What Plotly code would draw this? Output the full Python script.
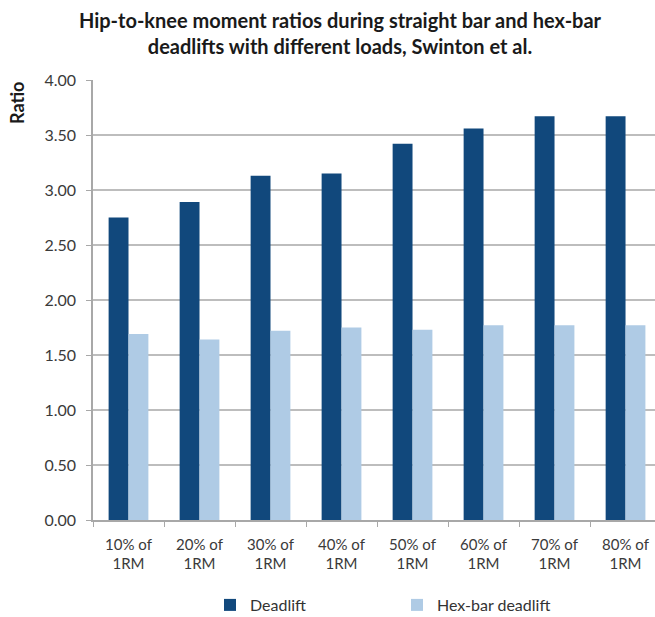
import plotly.graph_objects as go

# Load levels (x categories)
loads = ["10% of<br>1RM", "20% of<br>1RM", "30% of<br>1RM", "40% of<br>1RM",
         "50% of<br>1RM", "60% of<br>1RM", "70% of<br>1RM", "80% of<br>1RM"]

# Hip-to-knee moment ratios
deadlift = [2.75, 2.89, 3.13, 3.15, 3.42, 3.56, 3.67, 3.67]
hex_bar = [1.69, 1.64, 1.72, 1.75, 1.73, 1.77, 1.77, 1.77]

y_ticks = [0, 0.5, 1.0, 1.5, 2.0, 2.5, 3.0, 3.5, 4.0]

FONT = "Lato, 'Open Sans', sans-serif"
W, H = 655, 617
L, R, T, B = 93, 0, 80, 97

fig = go.Figure()
fig.add_trace(go.Bar(x=loads, y=deadlift, name="Deadlift",
                     marker=dict(color="#11487c", line=dict(width=0))))
fig.add_trace(go.Bar(x=loads, y=hex_bar, name="Hex-bar deadlift",
                     marker=dict(color="#afcbe5", line=dict(width=0))))

fig.update_layout(
    width=W, height=H,
    margin=dict(l=L, r=R, t=T, b=B, autoexpand=False),
    paper_bgcolor="white", plot_bgcolor="white",
    font=dict(family=FONT, size=15, color="#3a3a3a"),
    barmode="group", bargap=0.44, bargroupgap=0,
    title=dict(
        text="Hip-to-knee moment ratios during straight bar and hex-bar<br>"
             "deadlifts with different loads, Swinton et al.",
        font=dict(family=FONT, size=20, color="#1a1a1a", weight="bold"),
        xref="container", x=340 / W, xanchor="center",
        yref="container", y=1 - 28 / H, yanchor="middle",
    ),
    legend=dict(
        orientation="h", xref="paper", x=(210 - L) / (W - L), xanchor="left",
        yref="paper", y=-(605 - 520) / (H - T - B), yanchor="middle",
        entrywidth=142, entrywidthmode="pixels",
        font=dict(family=FONT, size=16, color="#333"),
        itemclick=False, traceorder="normal",
    ),
    showlegend=True,
)

fig.update_xaxes(
    type="category", range=[-0.5, 7.415],
    showline=True, linecolor="#a8a8a8", linewidth=1.5,
    ticks="outside", tickson="boundaries", ticklen=5, tickcolor="#a8a8a8",
    ticklabelstandoff=10,
    tickfont=dict(family=FONT, size=15, color="#3a3a3a"),
    showgrid=False, zeroline=False,
)
fig.update_yaxes(
    range=[0, 4], tickvals=y_ticks, tickformat=".2f",
    showline=True, linecolor="#a8a8a8", linewidth=1.5,
    ticks="outside", ticklen=5, tickcolor="#a8a8a8",
    ticklabelstandoff=7,
    tickfont=dict(family=FONT, size=16, color="#3a3a3a"),
    showgrid=True, gridcolor="#bdbdbd", gridwidth=1.5, zeroline=False,
)

fig.add_annotation(
    text="<b>Ratio</b>", textangle=-90, showarrow=False,
    xref="paper", x=(17 - L) / (W - L), xanchor="center",
    yref="paper", y=(520 - 103) / (H - T - B), yanchor="middle",
    font=dict(family=FONT, size=18, color="#1a1a1a"),
)

fig.write_html("out.html")
